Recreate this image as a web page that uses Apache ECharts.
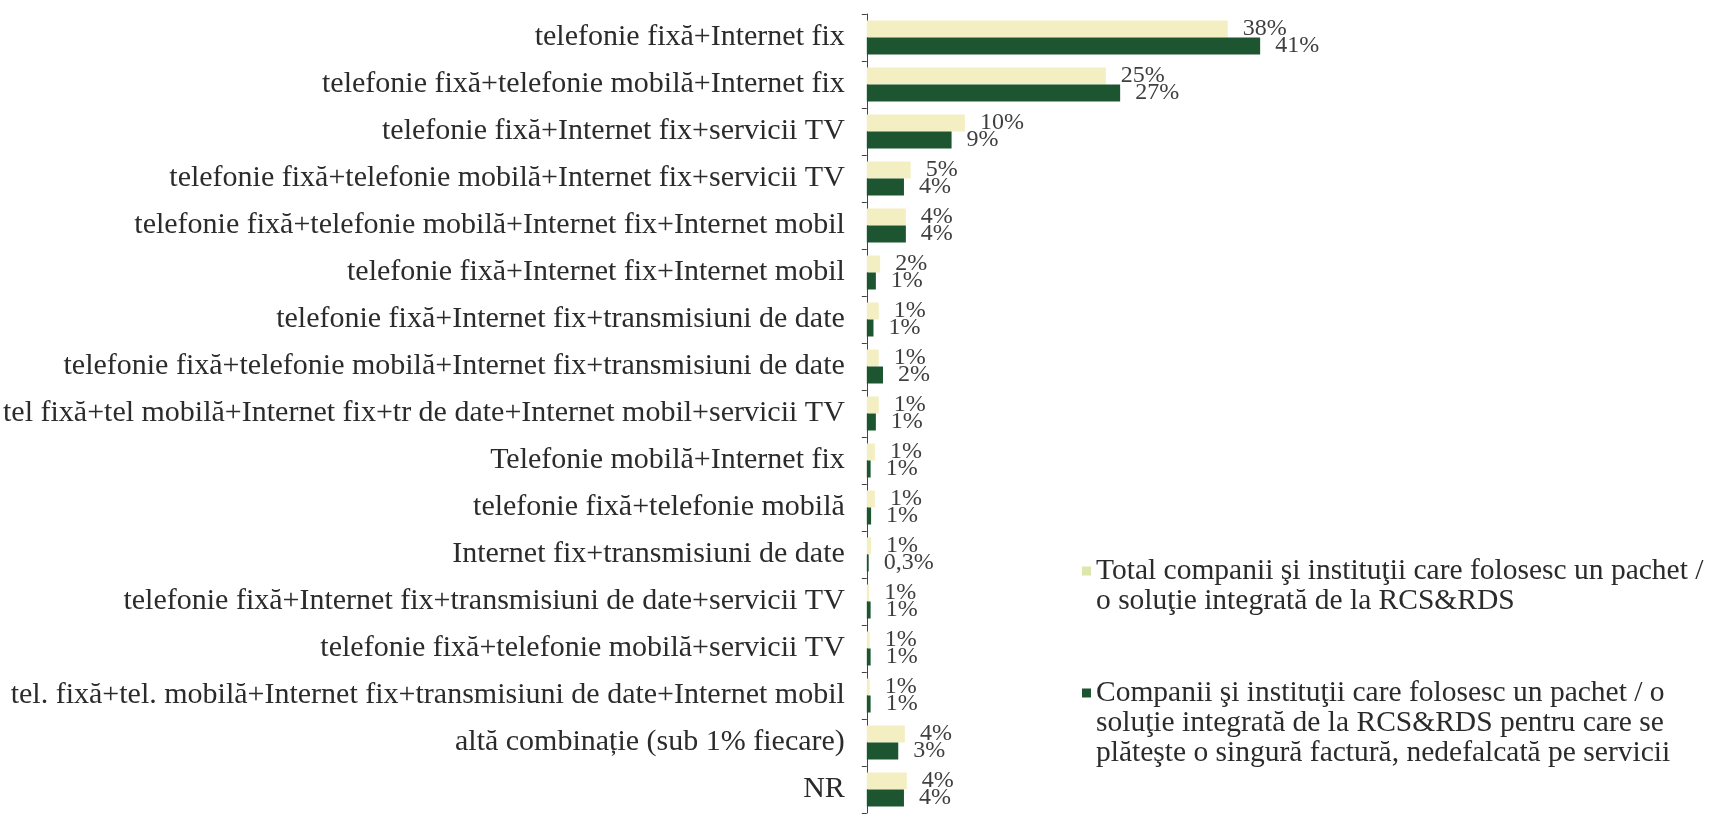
<!DOCTYPE html>
<html>
<head>
<meta charset="utf-8">
<title>Pachete integrate RCS&amp;RDS</title>
<script src="https://cdn.jsdelivr.net/npm/echarts@6/dist/echarts.min.js"></script>
<style>
  html, body { margin: 0; padding: 0; background: #fff; }
  #chart { width: 1709px; height: 820px; }
</style>
</head>
<body>
<div id="chart"></div>
<script>
// categories, top to bottom
const categories = [
  'telefonie fixă+Internet fix',
  'telefonie fixă+telefonie mobilă+Internet fix',
  'telefonie fixă+Internet fix+servicii TV',
  'telefonie fixă+telefonie mobilă+Internet fix+servicii TV',
  'telefonie fixă+telefonie mobilă+Internet fix+Internet mobil',
  'telefonie fixă+Internet fix+Internet mobil',
  'telefonie fixă+Internet fix+transmisiuni de date',
  'telefonie fixă+telefonie mobilă+Internet fix+transmisiuni de date',
  'tel fixă+tel mobilă+Internet fix+tr de date+Internet mobil+servicii TV',
  'Telefonie mobilă+Internet fix',
  'telefonie fixă+telefonie mobilă',
  'Internet fix+transmisiuni de date',
  'telefonie fixă+Internet fix+transmisiuni de date+servicii TV',
  'telefonie fixă+telefonie mobilă+servicii TV',
  'tel. fixă+tel. mobilă+Internet fix+transmisiuni de date+Internet mobil',
  'altă combinație (sub 1% fiecare)',
  'NR'
]

// bar lengths (%)
const totalValues = [37.9, 25.1, 10.3, 4.6, 4.1, 1.4, 1.25, 1.25, 1.25, 0.85, 0.85, 0.45, 0.25, 0.3, 0.3, 4.0, 4.2]
const singleBillValues = [41.3, 26.6, 8.9, 3.9, 4.1, 0.95, 0.7, 1.7, 0.95, 0.4, 0.45, 0.2, 0.4, 0.4, 0.4, 3.3, 3.9]

// printed value labels
const totalLabels = ['38%', '25%', '10%', '5%', '4%', '2%', '1%', '1%', '1%', '1%', '1%', '1%', '1%', '1%', '1%', '4%', '4%']
const singleBillLabels = ['41%', '27%', '9%', '4%', '4%', '1%', '1%', '2%', '1%', '1%', '1%', '0,3%', '1%', '1%', '1%', '3%', '4%']

const seriesNames = [
  'Total companii şi instituţii care folosesc un pachet / o soluţie integrată de la RCS&RDS',
  'Companii şi instituţii care folosesc un pachet / o soluţie integrată de la RCS&RDS pentru care se plăteşte o singură factură, nedefalcată pe servicii'
]
// leading blank lines keep the marker level with the first text line
const legendLines = {
  [seriesNames[0]]: ' \nTotal companii şi instituţii care folosesc un pachet /\no soluţie integrată de la RCS&RDS',
  [seriesNames[1]]: ' \n \nCompanii şi instituţii care folosesc un pachet / o\nsoluţie integrată de la RCS&RDS pentru care se\nplăteşte o singură factură, nedefalcată pe servicii'
}

const serif = '"Liberation Serif", "DejaVu Serif", serif'

const chart = echarts.init(document.getElementById('chart'))

const valueLabel = (labels) => ({
  show: true,
  position: 'right',
  distance: 15,
  fontFamily: serif,
  fontSize: 24,
  color: '#3f3f3f',
  formatter: p => labels[p.dataIndex]
})

const legendText = {
  fontFamily: serif,
  fontSize: 29.5,
  lineHeight: 30,
  color: '#2b2b2b'
}

chart.setOption({
  animation: false,
  grid: { left: 865, top: 14, width: 478, height: 799, containLabel: false },
  xAxis: {
    type: 'value',
    min: 0,
    max: 50,
    show: false
  },
  yAxis: {
    type: 'category',
    data: categories,
    inverse: true,
    axisLine: { show: true, lineStyle: { color: '#444', width: 1 } },
    axisTick: { show: true, length: 5, lineStyle: { color: '#444' } },
    axisLabel: {
      margin: 22,
      fontFamily: serif,
      fontSize: 30,
      color: '#2b2b2b'
    },
    splitLine: { show: false }
  },
  legend: [
    {
      data: [seriesNames[0]],
      orient: 'vertical',
      left: 1082,
      top: 526,
      padding: 0,
      icon: 'rect',
      itemWidth: 9,
      itemHeight: 9,
      itemStyle: { color: '#dfe6ad' },
      formatter: n => legendLines[n],
      textStyle: legendText
    },
    {
      data: [seriesNames[1]],
      orient: 'vertical',
      left: 1082,
      top: 618,
      padding: 0,
      icon: 'rect',
      itemWidth: 9,
      itemHeight: 9,
      formatter: n => legendLines[n],
      textStyle: legendText
    }
  ],
  series: [
    {
      name: seriesNames[0],
      type: 'bar',
      data: totalValues,
      barWidth: 17,
      barGap: '0%',
      itemStyle: { color: '#f3efc2' },
      label: valueLabel(totalLabels)
    },
    {
      name: seriesNames[1],
      type: 'bar',
      data: singleBillValues,
      barWidth: 17,
      barGap: '0%',
      itemStyle: { color: '#1c5530' },
      label: valueLabel(singleBillLabels)
    }
  ]
})
</script>
</body>
</html>
